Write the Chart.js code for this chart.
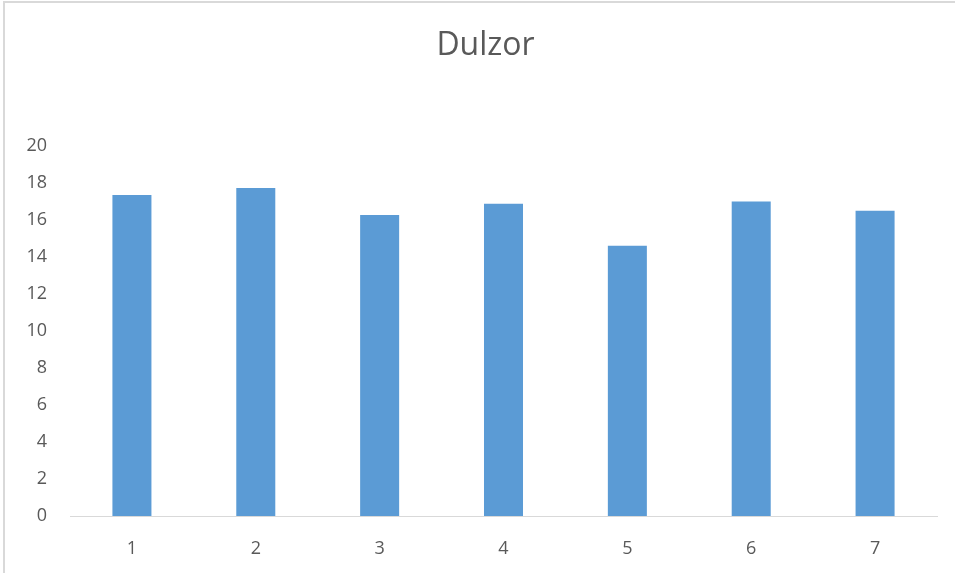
<!DOCTYPE html>
<html>
<head>
<meta charset="utf-8">
<title>Dulzor</title>
<script src="https://cdn.jsdelivr.net/npm/chart.js@4/dist/chart.umd.min.js"></script>
<style>
  html, body { margin: 0; padding: 0; background: #fff; }
  #wrap { position: relative; width: 955px; height: 573px; }
  #frame { position: absolute; left: 3px; top: 1px; right: 0; bottom: 0;
           border-top: 2px solid #d9d9d9; border-left: 2px solid #d9d9d9; pointer-events: none; }
  canvas { position: absolute; left: 0; top: 0; }
</style>
</head>
<body>
<div id="wrap">
  <canvas id="chart" width="955" height="573"></canvas>
  <div id="frame"></div>
</div>
<script>
// Dulzor - values
const categories = ['1', '2', '3', '4', '5', '6', '7'];
const dulzor = [17.32, 17.7, 16.25, 16.85, 14.58, 16.97, 16.47];
const yTicks = [0, 2, 4, 6, 8, 10, 12, 14, 16, 18, 20];

const TEXT = '#595959';
const FONT = 'Open Sans';

// nudge the title so it sits centred like the original
const titleShift = {
  id: 'titleShift',
  afterLayout(chart) {
    if (chart.titleBlock) chart.titleBlock.left = 34;
  }
};

const ctx = document.getElementById('chart').getContext('2d');
new Chart(ctx, {
  type: 'bar',
  data: {
    labels: categories,
    datasets: [{
      label: 'Dulzor',
      data: dulzor,
      backgroundColor: '#5b9bd5',
      borderWidth: 0,
      categoryPercentage: 1,
      barPercentage: 0.315
    }]
  },
  options: {
    responsive: false,
    animation: false,
    layout: { padding: { left: 0, right: 18, top: 0, bottom: 0 } },
    plugins: {
      legend: { display: false },
      tooltip: { enabled: false },
      title: {
        display: true,
        text: 'Dulzor',
        color: TEXT,
        font: { family: FONT, size: 32, weight: 'normal' },
        padding: { top: 27, bottom: 80 }
      }
    },
    scales: {
      x: {
        grid: { display: false, drawTicks: false },
        border: { display: true, color: '#d9d9d9', width: 1 },
        ticks: { color: TEXT, font: { family: FONT, size: 18 }, padding: 22 },
        afterFit: s => { s.height = 57; }
      },
      y: {
        min: 0,
        max: 20,
        afterBuildTicks: s => { s.ticks = yTicks.map(v => ({ value: v })); },
        grid: { display: false, drawTicks: false },
        border: { display: false },
        ticks: { color: TEXT, font: { family: FONT, size: 18 }, padding: 23 },
        afterFit: s => { s.width = 70; }
      }
    }
  },
  plugins: [titleShift]
});
</script>
</body>
</html>
